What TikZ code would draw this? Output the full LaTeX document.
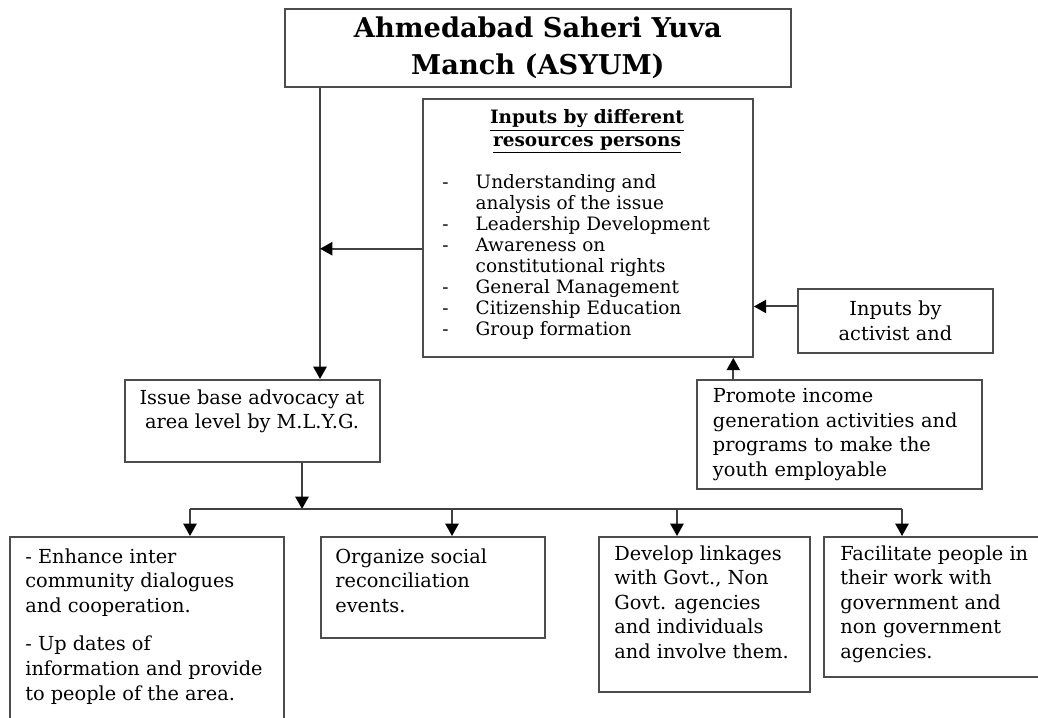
\documentclass[tikz,border=0pt]{standalone}
\usepackage{fontspec}
\setmainfont{DejaVu Serif}
\usetikzlibrary{calc,arrows.meta}
\tikzset{
	box/.style={draw=black!70, line width=1.1pt, anchor=north west, inner sep=0pt},
	arr/.style={draw=black!75, line width=1.1pt, -{Triangle[length=7pt,width=7.5pt,color=black]}},
	link/.style={draw=black!75, line width=1.1pt},
	txt/.style={inner sep=0pt, font=\fontsize{11}{14}\selectfont, align=left},
}

\begin{document}
\begin{tikzpicture}[x=0.02cm, y=-0.02cm]
	%%%%% START %%%%%
	\clip (0,0) rectangle (1038,717);
	
	\node[box, minimum width=10.12cm, minimum height=1.56cm, align=center, font=\fontsize{15.5}{21}\selectfont\bfseries] (title) at (284,8) {Ahmedabad Saheri Yuva\\Manch (ASYUM)};
	
	\node[box, minimum width=6.6cm, minimum height=5.16cm] (inputs) at (422,98) {};
	\node[txt, anchor=north, align=center, font=\fontsize{10.5}{13}\selectfont\bfseries] (inhead) at (587,109) {\underline{Inputs by different}\\\underline{resources persons}};
	\node[txt, anchor=north west, font=\fontsize{10.5}{12}\selectfont] (inlist) at (442,173) {\begin{tabular}{@{}p{19pt}@{}l@{}}
		- & Understanding and\\
		  & analysis of the issue\\
		- & Leadership Development\\
		- & Awareness on\\
		  & constitutional rights\\
		- & General Management\\
		- & Citizenship Education\\
		- & Group formation
	\end{tabular}};
	
	\node[box, minimum width=3.9cm, minimum height=1.28cm, align=center, font=\fontsize{11}{14}\selectfont] (activist) at (797,288) {Inputs by\\activist and};
	\node[box, minimum width=5.7cm, minimum height=2.18cm, inner xsep=0.32cm, text width=5.06cm, align=left, font=\fontsize{11}{14}\selectfont] (promote) at (696,379) {Promote income\\generation activities and\\programs to make the\\youth employable};
	
	\node[box, minimum width=5.1cm, minimum height=1.64cm] (issue) at (124,379) {};
	\node[txt, anchor=north, align=center] (issuetxt) at (252,389) {Issue base advocacy at\\area level by M.L.Y.G.};
	
	\node[box, minimum width=5.48cm, minimum height=4.2cm] (enhance) at (9,536) {};
	\node[txt, anchor=north west] (enhancetxt) at (25,548) {- Enhance inter\\community dialogues\\and cooperation.\\[8pt]- Up dates of\\information and provide\\to people of the area.};
	\node[box, minimum width=4.48cm, minimum height=2.02cm] (organize) at (320,536) {};
	\node[txt, anchor=north west] (organizetxt) at (335,548) {Organize social\\reconciliation\\events.};
	\node[box, minimum width=4.22cm, minimum height=3.1cm] (develop) at (598,536) {};
	\node[txt, anchor=north west] (developtxt) at (614,545) {Develop linkages\\with Govt., Non\\Govt. agencies\\and individuals\\and involve them.};
	\node[box, minimum width=4.44cm, minimum height=2.8cm] (facilitate) at (823,536) {};
	\node[txt, anchor=north west] (facilitatetxt) at (840,545) {Facilitate people in\\their work with\\government and\\non government\\agencies.};
	
	% connectors
	\coordinate (trunk) at (320,0);
	\coordinate (hub) at (302,509);
	\coordinate (b1) at (190,509);
	\coordinate (b2) at (452,509);
	\coordinate (b3) at (677,509);
	\coordinate (b4) at (902,509);
	\coordinate (inputsout) at ($(inputs.north west)!0.58!(inputs.south west)$);
	\coordinate (activistout) at ($(activist.north west)!0.28!(activist.south west)$);
	\coordinate (promoteout) at ($(promote.north west)!0.13!(promote.north east)$);
	
	\draw[arr] (trunk |- title.south) -- (trunk |- issue.north);
	\draw[arr] (inputsout) -- (inputsout -| trunk);
	\draw[arr] (activistout) -- (activistout -| inputs.east);
	\draw[arr] (promoteout) -- (promoteout |- inputs.south);
	
	\draw[arr] (hub |- issue.south) -- (hub);
	\draw[link] (b1) -- (b4);
	\draw[arr] (b1) -- (b1 |- enhance.north);
	\draw[arr] (b2) -- (b2 |- organize.north);
	\draw[arr] (b3) -- (b3 |- develop.north);
	\draw[arr] (b4) -- (b4 |- facilitate.north);
	
	%%%%% END %%%%%
\end{tikzpicture}
\end{document}
